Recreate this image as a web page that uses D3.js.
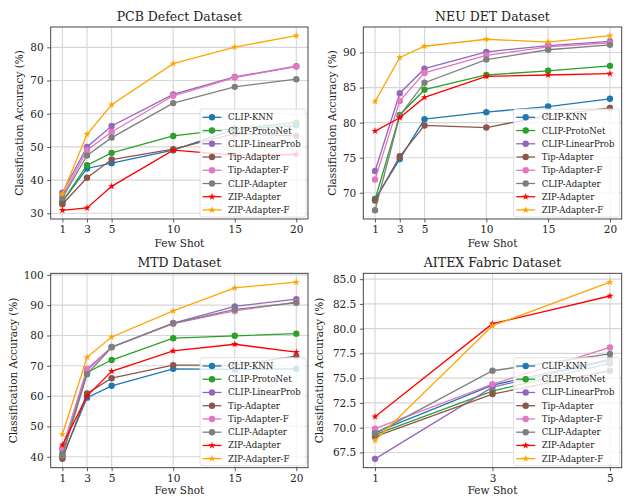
<!DOCTYPE html>
<html>
<head>
<meta charset="utf-8">
<script src="https://cdn.jsdelivr.net/npm/d3@7"></script>
<style>
  body { margin: 0; background: #fff; }
  svg { display: block; font-family: 'DejaVu Serif', serif; }
</style>
</head>
<body>
<div id="chart"></div>
<script>
// methods / legend entries
const methods = ['CLIP-KNN', 'CLIP-ProtoNet', 'CLIP-LinearProb', 'Tip-Adapter',
  'Tip-Adapter-F', 'CLIP-Adapter', 'ZIP-Adapter', 'ZIP-Adapter-F'];
const colors = ['#1f77b4', '#2ca02c', '#9467bd', '#8c564b', '#e377c2', '#7f7f7f', '#ff0000', '#ffa500'];
const markers = ['circle', 'circle', 'circle', 'circle', 'circle', 'circle', 'star', 'star'];

// few shot settings
const shots = [1, 3, 5, 10, 15, 20];
const shotsAitex = [1, 3, 5];

// accuracy values, one row per method (same order as methods)
const pcbValues = [
  [33.5, 43.5, 45.1, 49.0, 55.3, 56.5],
  [33.5, 44.5, 48.2, 53.3, 55.5, 57.3],
  [36.2, 50.0, 56.3, 65.8, 71.1, 74.3],
  [32.7, 40.7, 46.2, 49.3, 54.0, 53.3],
  [35.0, 49.0, 54.5, 65.4, 70.9, 74.2],
  [34.6, 47.4, 52.8, 63.2, 68.1, 70.4],
  [30.9, 31.6, 38.1, 49.0, 47.5, 47.7],
  [35.8, 53.8, 62.7, 75.1, 80.1, 83.5],
];
const neuValues = [
  [69.1, 74.8, 80.5, 81.5, 82.3, 83.4],
  [69.0, 81.1, 84.7, 86.8, 87.4, 88.1],
  [73.1, 84.2, 87.7, 90.1, 91.0, 91.6],
  [68.9, 75.2, 79.6, 79.3, 81.0, 82.1],
  [71.9, 83.1, 87.1, 89.6, 90.8, 91.4],
  [67.5, 81.0, 85.7, 89.0, 90.4, 91.1],
  [78.8, 80.7, 83.6, 86.6, 86.8, 87.0],
  [83.0, 89.3, 90.9, 91.9, 91.5, 92.4],
];
const mtdValues = [
  [40.0, 59.5, 63.4, 69.0, 68.8, 69.0],
  [41.0, 67.8, 71.9, 79.1, 79.9, 80.6],
  [42.5, 68.5, 76.2, 84.1, 89.6, 92.0],
  [39.3, 60.9, 65.9, 70.2, 70.2, 73.2],
  [42.9, 69.0, 76.2, 83.9, 88.1, 91.0],
  [40.3, 67.2, 76.1, 84.0, 88.6, 90.8],
  [43.9, 60.0, 68.2, 74.9, 77.1, 74.5],
  [47.4, 72.8, 79.5, 88.1, 95.7, 97.6],
];
const aitexValues = [
  [69.5, 74.3, 76.9],
  [69.3, 73.7, 76.5],
  [66.85, 74.1, 76.8],
  [69.1, 73.4, 75.75],
  [69.9, 74.4, 78.1],
  [69.4, 75.75, 77.45],
  [71.1, 80.5, 83.3],
  [68.7, 80.3, 84.7],
];

// tick labels
const pcbTicks = [30, 40, 50, 60, 70, 80];
const neuTicks = [70, 75, 80, 85, 90];
const mtdTicks = [40, 50, 60, 70, 80, 90, 100];
const aitexTicks = [67.5, 70, 72.5, 75, 77.5, 80, 82.5, 85];

const width = 630;
const height = 497;

const panels = [
  { title: 'PCB Defect Dataset', x: shots, values: pcbValues, yTicks: pcbTicks, fmt: d3.format('d'),
    box: { left: 50.7, top: 27, right: 308, bottom: 219 }, ylabelOffset: 28, xlabelOffset: 28 },
  { title: 'NEU DET Dataset', x: shots, values: neuValues, yTicks: neuTicks, fmt: d3.format('d'),
    box: { left: 363.3, top: 27, right: 621.7, bottom: 219 }, ylabelOffset: 27, xlabelOffset: 28 },
  { title: 'MTD Dataset', x: shots, values: mtdValues, yTicks: mtdTicks, fmt: d3.format('d'),
    box: { left: 50.7, top: 273.3, right: 308, bottom: 467.7 }, ylabelOffset: 34, xlabelOffset: 26 },
  { title: 'AITEX Fabric Dataset', x: shotsAitex, values: aitexValues, yTicks: aitexTicks, fmt: d3.format('.1f'),
    box: { left: 363.3, top: 273.3, right: 621.7, bottom: 467.7 }, ylabelOffset: 40, xlabelOffset: 26 },
];

const svg = d3.select('#chart')
  .append('svg')
  .attr('width', width)
  .attr('height', height);

const star = d3.symbol().type(d3.symbolStar).size(16);

function pad(extent) {
  const r = extent[1] - extent[0];
  return [extent[0] - 0.05 * r, extent[1] + 0.05 * r];
}

function drawPanel(p) {
  const { left, top, right, bottom } = p.box;
  const x = d3.scaleLinear().domain(pad(d3.extent(p.x))).range([left, right]);
  const y = d3.scaleLinear().domain(pad(d3.extent(p.values.flat()))).range([bottom, top]);

  const g = svg.append('g');

  // grid
  g.append('g')
    .selectAll('line')
    .data(p.x)
    .join('line')
    .attr('x1', (d) => x(d)).attr('x2', (d) => x(d))
    .attr('y1', top).attr('y2', bottom)
    .attr('stroke', '#d6d6d6').attr('stroke-width', 1.1);
  g.append('g')
    .selectAll('line')
    .data(p.yTicks)
    .join('line')
    .attr('y1', (d) => y(d)).attr('y2', (d) => y(d))
    .attr('x1', left).attr('x2', right)
    .attr('stroke', '#d6d6d6').attr('stroke-width', 1.1);

  // axes
  const xAxis = g.append('g')
    .attr('transform', `translate(0,${bottom})`)
    .call(d3.axisBottom(x).tickValues(p.x).tickSize(3.5).tickPadding(3.5).tickFormat(d3.format('d')));
  const yAxis = g.append('g')
    .attr('transform', `translate(${left},0)`)
    .call(d3.axisLeft(y).tickValues(p.yTicks).tickSize(3.5).tickPadding(3.5).tickFormat(p.fmt));
  [xAxis, yAxis].forEach((a) => {
    a.select('.domain').remove();
    a.selectAll('.tick line').attr('stroke', '#333').attr('stroke-width', 0.8);
    a.selectAll('.tick text')
      .attr('font-family', "'DejaVu Serif', serif")
      .attr('font-size', 10.5)
      .attr('fill', '#222');
  });

  // series
  const series = p.values.map((vals, i) => ({
    name: methods[i],
    color: colors[i],
    marker: markers[i],
    points: vals.map((v, j) => [p.x[j], v]),
  }));
  const line = d3.line().x((d) => x(d[0])).y((d) => y(d[1]));

  const sg = g.append('g')
    .selectAll('g')
    .data(series)
    .join('g');
  sg.append('path')
    .attr('d', (d) => line(d.points))
    .attr('fill', 'none')
    .attr('stroke', (d) => d.color)
    .attr('stroke-width', 1.3);
  sg.each(function (s) {
    const m = d3.select(this).selectAll('.m')
      .data(s.points)
      .join(s.marker === 'circle' ? 'circle' : 'path');
    if (s.marker === 'circle') {
      m.attr('cx', (d) => x(d[0])).attr('cy', (d) => y(d[1])).attr('r', 3.2);
    } else {
      m.attr('d', star).attr('transform', (d) => `translate(${x(d[0])},${y(d[1])})`);
    }
    m.attr('fill', s.color);
  });

  // frame
  g.append('rect')
    .attr('x', left).attr('y', top)
    .attr('width', right - left).attr('height', bottom - top)
    .attr('fill', 'none').attr('stroke', '#333').attr('stroke-width', 0.9);

  // titles
  g.append('text')
    .attr('x', (left + right) / 2).attr('y', top - 6)
    .attr('text-anchor', 'middle')
    .attr('font-size', 12.5).attr('fill', '#222')
    .text(p.title);
  g.append('text')
    .attr('x', (left + right) / 2).attr('y', bottom + p.xlabelOffset)
    .attr('text-anchor', 'middle')
    .attr('font-size', 10.5).attr('fill', '#222')
    .text('Few Shot');
  g.append('text')
    .attr('transform', `translate(${left - p.ylabelOffset},${(top + bottom) / 2}) rotate(-90)`)
    .attr('text-anchor', 'middle')
    .attr('font-size', 10.5).attr('fill', '#222')
    .text('Classification Accuracy (%)');

  // legend
  const lw = 106;
  const lh = 108;
  const lx = right - lw - 2;
  const ly = bottom - lh - 2;
  const lg = g.append('g').attr('transform', `translate(${lx},${ly})`);
  lg.append('rect')
    .attr('width', lw).attr('height', lh).attr('rx', 2)
    .attr('fill', '#fff').attr('fill-opacity', 0.8)
    .attr('stroke', '#d8d8d8').attr('stroke-width', 0.8);
  const item = lg.selectAll('g')
    .data(series)
    .join('g')
    .attr('transform', (d, i) => `translate(0,${8.3 + i * 13.24})`);
  item.append('line')
    .attr('x1', 2.5).attr('x2', 21.5)
    .attr('stroke', (d) => d.color).attr('stroke-width', 1.3);
  item.each(function (s) {
    const it = d3.select(this);
    if (s.marker === 'circle') {
      it.append('circle').attr('cx', 12).attr('r', 3.2).attr('fill', s.color);
    } else {
      it.append('path').attr('d', star).attr('transform', 'translate(12,0)').attr('fill', s.color);
    }
  });
  item.append('text')
    .attr('x', 28).attr('dy', '0.35em')
    .attr('font-size', 8.6).attr('fill', '#222')
    .text((d) => d.name);
}

panels.forEach(drawPanel);
</script>
</body>
</html>
